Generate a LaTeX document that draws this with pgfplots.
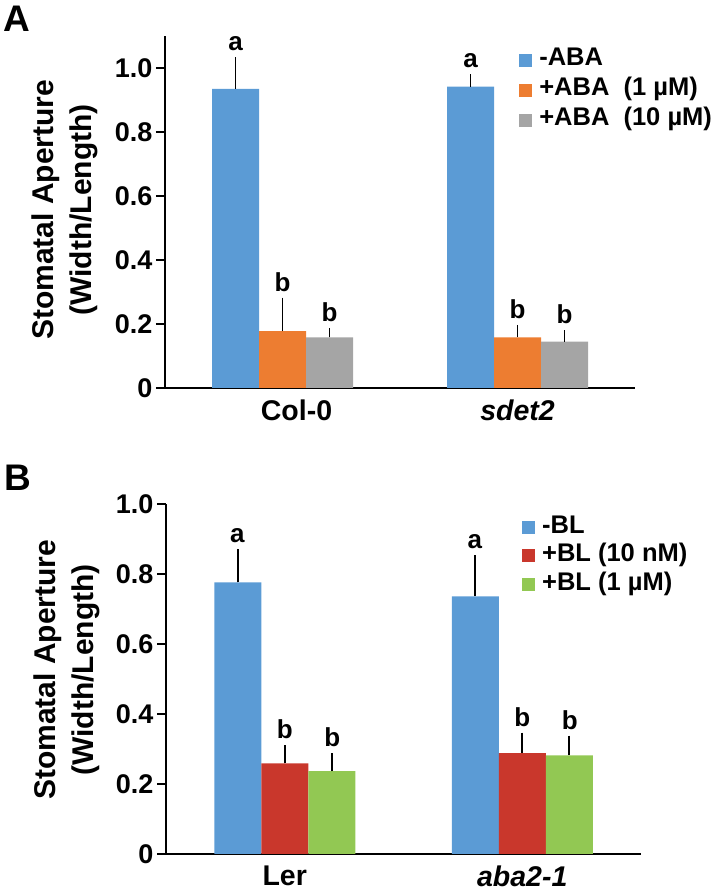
\documentclass[border=0pt]{standalone}
\usepackage{pgfplots}
\pgfplotsset{compat=1.18}
\usepackage{fontspec}
\setmainfont{Liberation Sans}
\definecolor{cblue}{HTML}{5B9BD5}
\definecolor{corange}{HTML}{ED7D31}
\definecolor{cgray}{HTML}{A5A5A5}
\definecolor{cred}{HTML}{C9372C}
\definecolor{cgreen}{HTML}{92C853}
\pgfplotsset{
  myaxis/.style={
    scale only axis,
    axis x line*=bottom, axis y line*=left,
    axis line style={line width=2.5pt, -},
    ybar=0pt, bar width=47pt,
    xmin=-0.5, xmax=1.5, xtick={0,1},
    ymin=0,
    tick align=outside,
    major tick length=9pt,
    ytick style={black, line width=2.5pt},
    xtick style={draw=none},
    /pgf/number format/assume math mode=true,
    yticklabel style={font=\fontsize{27}{27}\selectfont\bfseries},
    xticklabel style={font=\fontsize{28.5}{28.5}\selectfont\bfseries, yshift=1pt},
    every axis y label/.style={rotate=90, anchor=center, align=center,
      font=\fontsize{30}{38}\selectfont\bfseries},
    legend cell align=left,
    legend image code/.code={\fill[##1] (0pt,-6.5pt) rectangle (13pt,6.5pt);},
    error bars/y dir=plus, error bars/y explicit,
    error bars/error mark=none,
    error bars/error bar style={line width=1.8pt, black},
  },
}
\tikzset{lett/.style={anchor=base, inner sep=0pt, yshift=6.5pt, font=\fontsize{26}{26}\selectfont\bfseries}}
\begin{document}
\begin{tikzpicture}
\path[use as bounding box] (0pt,0pt) rectangle (720pt,890pt);
\node[anchor=base west, inner sep=0pt, font=\fontsize{37}{37}\selectfont\bfseries] at (3pt,858pt) {A};
\node[anchor=base west, inner sep=0pt, font=\fontsize{37}{37}\selectfont\bfseries] at (4pt,399pt) {B};
% Panel A
\begin{axis}[myaxis, at={(165pt,502pt)}, anchor=south west, width=470pt, height=352pt,
  ymax=1.1, ytick={0,0.2,0.4,0.6,0.8,1.0}, yticklabels={0,0.2,0.4,0.6,0.8,1.0},
  xticklabels={\hspace*{28pt}Col-0,\textit{sdet2}},
  ylabel={Stomatal Aperture\\(Width/Length)},
  every axis y label/.append style={at={(axis description cs:-0.2138,0.506)}},
  legend style={at={(axis description cs:0.747,0.980)}, anchor=north west, draw=none, fill=none,
    font=\fontsize{25.5}{30}\selectfont\bfseries, row sep=0pt,
    /tikz/every odd column/.style={column sep=5pt},
    nodes={inner sep=2pt, text height=18pt, text depth=8pt}},
]
\addplot[fill=cblue, draw=none] coordinates {(0,0.935) +- (0,0.098) (1,0.942) +- (0,0.039)};
\addplot[fill=corange, draw=none] coordinates {(0,0.178) +- (0,0.104) (1,0.158) +- (0,0.039)};
\addplot[fill=cgray, draw=none] coordinates {(0,0.158) +- (0,0.030) (1,0.145) +- (0,0.036)};
\legend{-ABA, +ABA\ \ (1 µM), +ABA\ \ (10 µM)}
\node[lett] at (axis cs:-0.2,1.033) {a};
\node[lett] at (axis cs:0,0.282) {b};
\node[lett] at (axis cs:0.2,0.188) {b};
\node[lett] at (axis cs:0.8,0.981) {a};
\node[lett] at (axis cs:1,0.197) {b};
\node[lett] at (axis cs:1.2,0.181) {b};
\end{axis}
% Panel B
\begin{axis}[myaxis, at={(166pt,36pt)}, anchor=south west, width=475pt, height=350pt,
  ymax=1.0, ytick={0,0.2,0.4,0.6,0.8,1.0}, yticklabels={0,0.2,0.4,0.6,0.8,1.0},
  xticklabels={Ler,\textit{aba2-1}},
  ylabel={Stomatal Aperture\\(Width/Length)},
  every axis y label/.append style={at={(axis description cs:-0.209,0.526)}},
  legend style={at={(axis description cs:0.743,0.98)}, anchor=north west, draw=none, fill=none,
    font=\fontsize{25.5}{30}\selectfont\bfseries, row sep=0pt,
    /tikz/every odd column/.style={column sep=5pt},
    nodes={inner sep=2pt, text height=18pt, text depth=6.5pt}},
]
\addplot[fill=cblue, draw=none] coordinates {(0,0.776) +- (0,0.096) (1,0.736) +- (0,0.117)};
\addplot[fill=cred, draw=none] coordinates {(0,0.259) +- (0,0.051) (1,0.288) +- (0,0.059)};
\addplot[fill=cgreen, draw=none] coordinates {(0,0.237) +- (0,0.051) (1,0.282) +- (0,0.056)};
\legend{-BL, +BL (10 nM), +BL (1 µM)}
\node[lett] at (axis cs:-0.2,0.872) {a};
\node[lett] at (axis cs:0,0.310) {b};
\node[lett] at (axis cs:0.2,0.288) {b};
\node[lett] at (axis cs:0.8,0.853) {a};
\node[lett] at (axis cs:1,0.347) {b};
\node[lett] at (axis cs:1.2,0.338) {b};
\end{axis}
\end{tikzpicture}
\end{document}
